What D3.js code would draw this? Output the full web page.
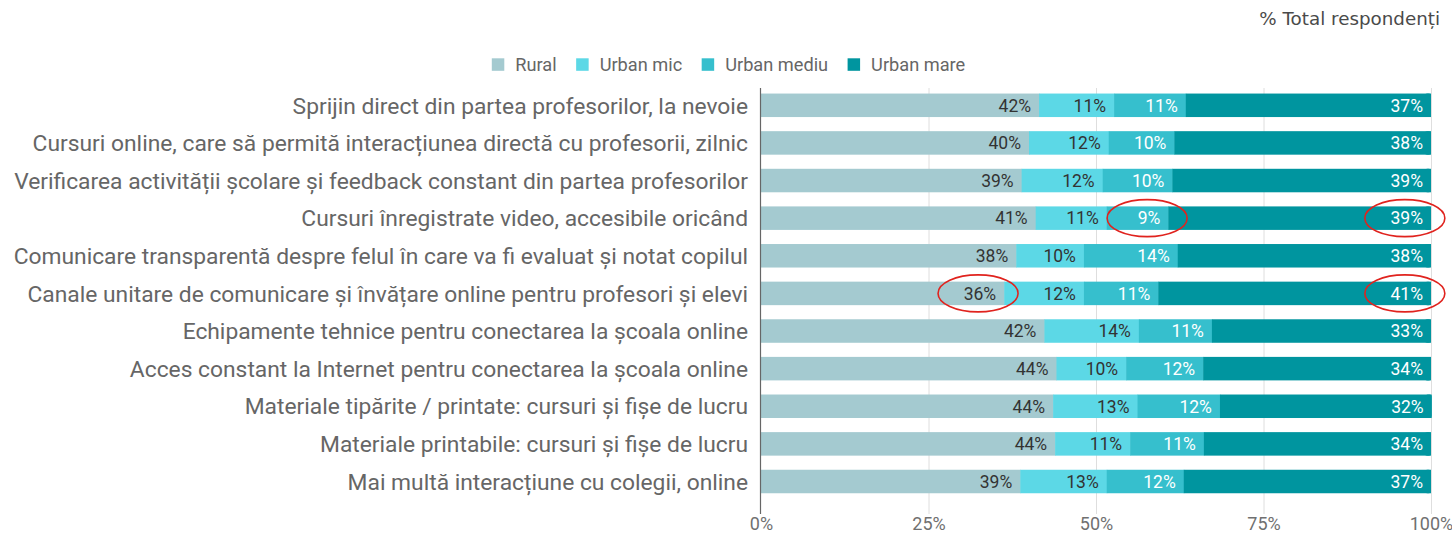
<!DOCTYPE html>
<html>
<head>
<meta charset="utf-8">
<script src="https://cdn.jsdelivr.net/npm/d3@7"></script>
<style>
  body { margin: 0; background: #fff; }
  svg { display: block; }
</style>
</head>
<body>
<script>
// categories, top to bottom
let categories = [
  "Sprijin direct din partea profesorilor, la nevoie",
  "Cursuri online, care să permită interacțiunea directă cu profesorii, zilnic",
  "Verificarea activității școlare și feedback constant din partea profesorilor",
  "Cursuri înregistrate video, accesibile oricând",
  "Comunicare transparentă despre felul în care va fi evaluat și notat copilul",
  "Canale unitare de comunicare și învățare online pentru profesori și elevi",
  "Echipamente tehnice pentru conectarea la școala online",
  "Acces constant la Internet pentru conectarea la școala online",
  "Materiale tipărite / printate: cursuri și fișe de lucru",
  "Materiale printabile: cursuri și fișe de lucru",
  "Mai multă interacțiune cu colegii, online"
];

let seriesNames = ["Rural", "Urban mic", "Urban mediu", "Urban mare"];

// % of respondents
let rural      = [41.5, 40.0, 38.9, 41.0, 38.1, 36.3, 42.3, 44.1, 43.6, 43.9, 38.7];
let urbanMic   = [11.2, 11.9, 12.1, 10.6, 10.1, 11.9, 14.1, 10.4, 12.6, 11.2, 12.9];
let urbanMediu = [10.7,  9.8, 10.4,  9.2, 14.0, 11.1, 10.9, 11.5, 12.3, 11.0, 11.5];
let urbanMare  = [36.6, 38.3, 38.6, 39.2, 37.8, 40.7, 32.7, 34.0, 31.6, 33.9, 36.9];

let tickValues = [0, 25, 50, 75, 100];

// cells circled in red: [row, series]
let highlighted = [[3, 2], [3, 3], [5, 0], [5, 3]];

let colors = ["#a4cad0", "#5cd8e6", "#36bfcd", "#00959f"];
let labelColors = ["#333", "#333", "#fff", "#fff"];

let svg = d3.select('body')
  .append('svg')
  .attr("width", 1452)
  .attr("height", 533);

let x = d3.scaleLinear()
  .domain([0, 100])
  .range([761, 1431]);

let y = d3.scalePoint()
  .domain(categories)
  .range([105.3, 481.5]);

let barH = 23.5;
let gridTop = 88, gridBottom = 514;

// title
svg.append("text")
  .attr("x", 1440)
  .attr("y", 25)
  .attr("text-anchor", "end")
  .attr("font-family", "DejaVu Sans, sans-serif")
  .attr("font-size", 18.3)
  .attr("fill", "#4a4a4a")
  .text("% Total respondenți");

// gridlines
svg.append("g")
  .selectAll("line")
  .data(tickValues.slice(1))
  .join("line")
  .attr("x1", d => x(d) + 0.5)
  .attr("x2", d => x(d) + 0.5)
  .attr("y1", gridTop)
  .attr("y2", gridBottom)
  .attr("stroke", "#dedede")
  .attr("stroke-width", 1);

// x axis tick labels
let xAxis = d3.axisBottom(x)
  .tickValues(tickValues)
  .tickFormat(d => d + "%")
  .tickSize(0)
  .tickPadding(0);

let gx = svg.append("g")
  .attr("transform", `translate(0, ${gridBottom})`)
  .call(xAxis);
gx.select(".domain").remove();
gx.selectAll("text")
  .attr("y", 10)
  .attr("dy", "0.36em")
  .attr("font-family", "Roboto, sans-serif")
  .attr("font-size", 18)
  .attr("fill", "#707070");

// stacked data
let table = categories.map((c, i) => ({
  cat: c, vals: [rural[i], urbanMic[i], urbanMediu[i], urbanMare[i]]
}));

let cells = [];
table.forEach((row, i) => {
  let acc = 0;
  row.vals.forEach((v, s) => {
    cells.push({ row: i, cat: row.cat, s: s, x0: acc, x1: acc + v, v: v });
    acc += v;
  });
});

// bars
svg.append("g")
  .selectAll("rect")
  .data(cells)
  .join("rect")
  .attr("x", d => x(d.x0))
  .attr("width", d => x(d.x1) - x(d.x0) + (d.s < 3 ? 0.5 : 0))
  .attr("y", d => y(d.cat) - barH / 2)
  .attr("height", barH)
  .attr("fill", d => colors[d.s]);

// rounded right end of the last segment
svg.append("g")
  .selectAll("rect")
  .data(cells.filter(d => d.s === 3))
  .join("rect")
  .attr("x", d => x(d.x1) - 6)
  .attr("width", 6)
  .attr("y", d => y(d.cat) - barH / 2)
  .attr("height", barH)
  .attr("rx", 2)
  .attr("fill", colors[3]);

// value labels
let valueLabels = svg.append("g")
  .selectAll("text")
  .data(cells)
  .join("text")
  .attr("x", d => x(d.x1) - 8)
  .attr("y", d => y(d.cat))
  .attr("dy", "0.36em")
  .attr("text-anchor", "end")
  .attr("font-family", "Roboto, sans-serif")
  .attr("font-size", 17.5)
  .attr("fill", d => labelColors[d.s])
  .text(d => Math.round(d.v) + "%");

// 0% axis line
svg.append("line")
  .attr("x1", x(0) - 0.5)
  .attr("x2", x(0) - 0.5)
  .attr("y1", gridTop)
  .attr("y2", gridBottom)
  .attr("stroke", "#666")
  .attr("stroke-width", 1.2);

// category labels
svg.append("g")
  .selectAll("text")
  .data(categories)
  .join("text")
  .attr("x", 748)
  .attr("y", d => y(d))
  .attr("dy", "0.36em")
  .attr("text-anchor", "end")
  .attr("font-family", "Roboto, sans-serif")
  .attr("font-size", 22.8)
  .attr("fill", "#666")
  .text(d => d);

// legend
let legend = svg.append("g");
let items = legend.selectAll("g")
  .data(seriesNames)
  .join("g");
items.append("rect")
  .attr("width", 12.5)
  .attr("height", 12.5)
  .attr("y", 58.3)
  .attr("fill", (d, i) => colors[i]);
items.append("text")
  .attr("x", 23.5)
  .attr("y", 64.5)
  .attr("dy", "0.36em")
  .attr("font-family", "Roboto, sans-serif")
  .attr("font-size", 18.2)
  .attr("fill", "#666")
  .text(d => d);

let lx = 0;
items.each(function () {
  let g = d3.select(this);
  g.attr("transform", `translate(${lx},0)`);
  lx += 23.5 + g.select("text").node().getComputedTextLength() + 19.5;
});
let legendW = lx - 19.5;
legend.attr("transform", `translate(${728.5 - legendW / 2},0)`);

// red ellipses around the highlighted labels
let ann = svg.append("g");
highlighted.forEach(([r, s]) => {
  let node = valueLabels.filter(d => d.row === r && d.s === s).node();
  let bb = node.getBBox();
  ann.append("ellipse")
    .attr("cx", bb.x + bb.width / 2 - 2)
    .attr("cy", y(categories[r]))
    .attr("rx", 40)
    .attr("ry", 18.5)
    .attr("fill", "none")
    .attr("stroke", "#e0231e")
    .attr("stroke-width", 1.6);
});
</script>
</body>
</html>
